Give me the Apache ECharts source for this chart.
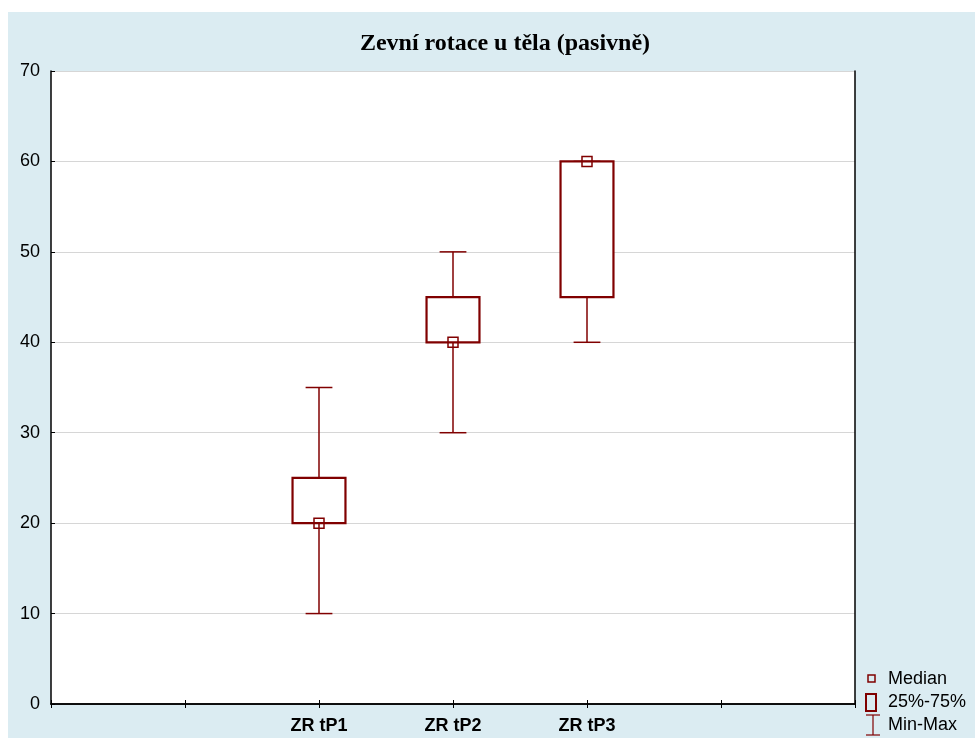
<!DOCTYPE html>
<html>
<head>
<meta charset="utf-8">
<script src="https://cdn.jsdelivr.net/npm/echarts@6/dist/echarts.min.js"></script>
<style>html,body{margin:0;padding:0;background:#fff}#c{width:975px;height:738px}</style>
</head>
<body>
<div id="c"></div>
<script>
const titleText = 'Zevní rotace u těla (pasivně)';
const categories = ['', '', 'ZR tP1', 'ZR tP2', 'ZR tP3', '', ''];
const seriesCats = ['ZR tP1', 'ZR tP2', 'ZR tP3'];
const minVals = [10, 30, 40];
const q1Vals = [20, 40, 45];
const medianVals = [20, 40, 60];
const q3Vals = [25, 45, 60];
const maxVals = [35, 50, 60];
const legendLabels = ['Median', '25%-75%', 'Min-Max'];

const RED = '#800000';
const data = seriesCats.map((c, i) => [c, minVals[i], q1Vals[i], medianVals[i], q3Vals[i], maxVals[i]]);

const chart = echarts.init(document.getElementById('c'), null, {renderer: 'canvas'});
const axisLine = {show: true, lineStyle: {color: '#000', width: 1.5}};
const option = {
  backgroundColor: '#ffffff',
  animation: false,
  title: {
    text: titleText, left: 500, top: 27, textAlign: 'center',
    textStyle: {fontFamily: 'Liberation Serif', fontWeight: 'bold', fontSize: 24, color: '#000'}
  },
  grid: {left: 51, right: 120, top: 71, bottom: 34, show: true, backgroundColor: '#fff', borderWidth: 0},
  xAxis: [{
    type: 'category', data: categories, boundaryGap: false,
    axisLine: axisLine,
    axisTick: {show: true, inside: true, length: 4, alignWithLabel: true, lineStyle: {color: '#000'}},
    axisLabel: {show: true, interval: 0, margin: 13, fontFamily: 'Liberation Sans', fontWeight: 'bold', fontSize: 18, color: '#000'},
    splitLine: {show: false}
  }, {
    type: 'category', data: categories, boundaryGap: false, position: 'top',
    axisLine: axisLine,
    axisTick: {show: true, inside: true, length: 4, lineStyle: {color: '#000'}},
    axisLabel: {show: false}, splitLine: {show: false}
  }],
  yAxis: [{
    type: 'value', min: 0, max: 70, interval: 10,
    axisLine: axisLine,
    axisTick: {show: true, inside: true, length: 4, lineStyle: {color: '#000'}},
    axisLabel: {fontFamily: 'Liberation Sans', fontSize: 18, color: '#000', margin: 11},
    splitLine: {show: true, lineStyle: {color: '#d6d6d6', width: 1}}
  }, {
    type: 'value', min: 0, max: 70, interval: 10, position: 'right',
    axisLine: axisLine, axisTick: {show: false}, axisLabel: {show: false}, splitLine: {show: false}
  }],
  graphic: [
    {type: 'rect', z: -10, silent: true, shape: {x: 8, y: 12, width: 967, height: 726}, style: {fill: '#dbecf2'}},
    // legend
    {type: 'rect', shape: {x: 868, y: 675, width: 7, height: 7}, style: {fill: 'none', stroke: RED, lineWidth: 1.5}},
    {type: 'text', x: 888, y: 679, style: {text: legendLabels[0], fontFamily: 'Liberation Sans', fontSize: 18, fill: '#000', verticalAlign: 'middle'}},
    {type: 'rect', shape: {x: 866, y: 694, width: 10, height: 17}, style: {fill: 'none', stroke: RED, lineWidth: 2}},
    {type: 'text', x: 888, y: 702, style: {text: legendLabels[1], fontFamily: 'Liberation Sans', fontSize: 18, fill: '#000', verticalAlign: 'middle'}},
    {type: 'polyline', shape: {points: [[866, 715], [880, 715]]}, style: {stroke: RED, lineWidth: 1.2}},
    {type: 'polyline', shape: {points: [[873, 715], [873, 735]]}, style: {stroke: RED, lineWidth: 1.2}},
    {type: 'polyline', shape: {points: [[866, 735], [880, 735]]}, style: {stroke: RED, lineWidth: 1.2}},
    {type: 'text', x: 888, y: 725, style: {text: legendLabels[2], fontFamily: 'Liberation Sans', fontSize: 18, fill: '#000', verticalAlign: 'middle'}}
  ],
  series: [{
    type: 'custom',
    data: data,
    encode: {x: 0, y: [1, 2, 3, 4, 5]},
    renderItem: function (params, api) {
      const cat = api.value(0);
      const pMin = api.coord([cat, api.value(1)]);
      const pQ1 = api.coord([cat, api.value(2)]);
      const pMed = api.coord([cat, api.value(3)]);
      const pQ3 = api.coord([cat, api.value(4)]);
      const pMax = api.coord([cat, api.value(5)]);
      const band = api.size([1, 0])[0];
      const x = pMin[0];
      const bw = band * 0.395;
      const cw = band * 0.2;
      const ms = 10;
      const wStyle = {stroke: RED, lineWidth: 1.5, fill: null};
      const children = [];
      if (pMin[1] !== pQ1[1]) {
        children.push({type: 'line', shape: {x1: x, y1: pMin[1], x2: x, y2: pQ1[1]}, style: wStyle});
      }
      if (pMax[1] !== pQ3[1]) {
        children.push({type: 'line', shape: {x1: x, y1: pQ3[1], x2: x, y2: pMax[1]}, style: wStyle});
      }
      children.push({type: 'line', shape: {x1: x - cw / 2, y1: pMin[1], x2: x + cw / 2, y2: pMin[1]}, style: wStyle});
      children.push({type: 'line', shape: {x1: x - cw / 2, y1: pMax[1], x2: x + cw / 2, y2: pMax[1]}, style: wStyle});
      children.push({type: 'rect', shape: {x: x - bw / 2, y: pQ3[1], width: bw, height: pQ1[1] - pQ3[1]}, style: {stroke: RED, lineWidth: 2.2, fill: '#fff'}});
      children.push({type: 'rect', shape: {x: x - ms / 2, y: pMed[1] - ms / 2, width: ms, height: ms}, style: {stroke: RED, lineWidth: 1.5, fill: 'none'}});
      return {type: 'group', children: children};
    }
  }]
};
chart.setOption(option);
</script>
</body>
</html>
